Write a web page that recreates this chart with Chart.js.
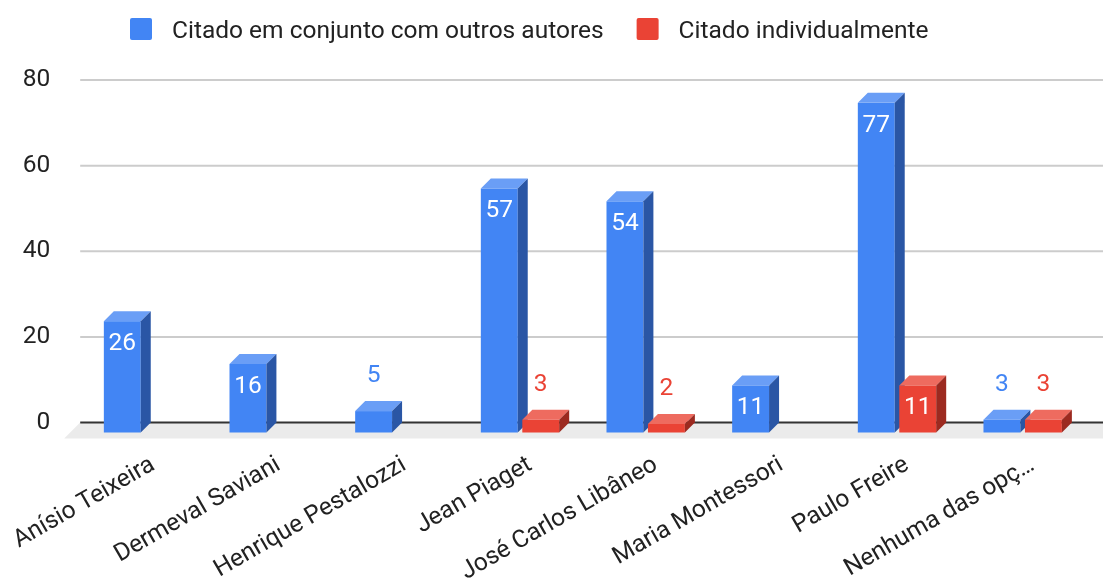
<!DOCTYPE html>
<html>
<head>
<meta charset="utf-8">
<script src="https://cdn.jsdelivr.net/npm/chart.js@4.4.0/dist/chart.umd.min.js"></script>
<style>
  body { margin: 0; background: #fff; }
  #wrap { width: 1103px; height: 578px; }
</style>
</head>
<body>
<div id="wrap"><canvas id="authorsChart"></canvas></div>
<script>
const categories = [
  "Anísio Teixeira",
  "Dermeval Saviani",
  "Henrique Pestalozzi",
  "Jean Piaget",
  "José Carlos Libâneo",
  "Maria Montessori",
  "Paulo Freire",
  "Nenhuma das opç…",
];
const seriesNames = ["Citado em conjunto com outros autores", "Citado individualmente"];
const jointValues = [26, 16, 5, 57, 54, 11, 77, 3];
const individualValues = [0, 0, 0, 3, 2, 0, 11, 3];
const yTicks = [0, 20, 40, 60, 80];

const DEPTH = 10; // 3d offset of the bars
const FLOOR = 16; // depth of the grey floor
const palette = [
  { front: "#4285f4", top: "#6a9ef6", side: "#2a56a5" },
  { front: "#ea4335", top: "#ee6b5f", side: "#9c2a20" },
];

Chart.defaults.font.family = "Roboto";
Chart.defaults.font.size = 24.5;
Chart.defaults.color = "#222";

// floor + grid in the back plane, bars drawn as boxes
const bars3d = {
  id: "bars3d",
  beforeDatasetsDraw(chart) {
    const { ctx, chartArea, scales } = chart;
    const y = scales.y;
    const zero = y.getPixelForValue(0);
    const left = chartArea.left - DEPTH;
    const right = chart.width;
    ctx.save();
    ctx.fillStyle = "#ebebeb";
    ctx.beginPath();
    ctx.moveTo(left, zero);
    ctx.lineTo(right + FLOOR, zero);
    ctx.lineTo(right, zero + FLOOR);
    ctx.lineTo(left - FLOOR, zero + FLOOR);
    ctx.closePath();
    ctx.fill();

    ctx.lineWidth = 2;
    yTicks.forEach((v) => {
      const py = y.getPixelForValue(v);
      ctx.strokeStyle = v === 0 ? "#333333" : "#cccccc";
      ctx.beginPath();
      ctx.moveTo(left, py);
      ctx.lineTo(right, py);
      ctx.stroke();
    });
    ctx.restore();
  },
  beforeDatasetDraw() {
    return false;
  },
  afterDatasetsDraw(chart) {
    const ctx = chart.ctx;
    const d = DEPTH;
    const labels = [];
    ctx.save();
    chart.data.datasets.forEach((ds, di) => {
      const meta = chart.getDatasetMeta(di);
      const c = palette[di];
      meta.data.forEach((bar, i) => {
        const v = ds.data[i];
        if (!v) return;
        const { x, y, base, width } = bar.getProps(["x", "y", "base", "width"], true);
        const l = x - width / 2;
        const r = x + width / 2;

        ctx.fillStyle = c.front;
        ctx.fillRect(l - d, y + d, width, base - y);

        ctx.fillStyle = c.top;
        ctx.beginPath();
        ctx.moveTo(l - d, y + d);
        ctx.lineTo(l, y);
        ctx.lineTo(r, y);
        ctx.lineTo(r - d, y + d);
        ctx.closePath();
        ctx.fill();

        ctx.fillStyle = c.side;
        ctx.beginPath();
        ctx.moveTo(r - d, y + d);
        ctx.lineTo(r, y);
        ctx.lineTo(r, base);
        ctx.lineTo(r - d, base + d);
        ctx.closePath();
        ctx.fill();

        const inside = base - y > 30;
        labels.push({
          text: String(v),
          x: x - d,
          y: inside ? y + d + 29 : y + d - 29,
          color: inside ? "#ffffff" : c.front,
        });
      });
    });

    ctx.font = "24.5px Roboto";
    ctx.textAlign = "center";
    ctx.textBaseline = "alphabetic";
    labels.forEach((lb) => {
      ctx.fillStyle = lb.color;
      ctx.fillText(lb.text, lb.x, lb.y);
    });
    ctx.restore();
  },
};

// legend drawn by hand to match the spacing of the original
const legendRow = {
  id: "legendRow",
  afterDraw(chart) {
    const ctx = chart.ctx;
    ctx.save();
    ctx.font = "24.5px Roboto";
    ctx.textBaseline = "alphabetic";
    ctx.textAlign = "left";
    let x = 130;
    const top = 18;
    chart.data.datasets.forEach((ds, i) => {
      ctx.fillStyle = palette[i].front;
      ctx.beginPath();
      ctx.roundRect(x, top, 22, 22, 2);
      ctx.fill();
      ctx.fillStyle = "#222";
      ctx.fillText(ds.label, x + 42, top + 19.5);
      x += 42 + ctx.measureText(ds.label).width + 33;
    });
    ctx.restore();
  },
};

new Chart(document.getElementById("authorsChart"), {
  type: "bar",
  data: {
    labels: categories,
    datasets: [
      { label: seriesNames[0], data: jointValues, backgroundColor: palette[0].front },
      { label: seriesNames[1], data: individualValues, backgroundColor: palette[1].front },
    ],
  },
  options: {
    responsive: true,
    maintainAspectRatio: false,
    animation: false,
    categoryPercentage: 0.66,
    barPercentage: 0.89,
    layout: { padding: { top: 80, right: 7.5, left: 0, bottom: 0 } },
    scales: {
      x: {
        grid: { display: false, drawTicks: false },
        border: { display: false },
        ticks: { minRotation: 30, maxRotation: 30, autoSkip: false, padding: 28 },
        afterFit: (s) => {
          s.height = 155.5;
          s.paddingLeft = 0;
          s.paddingRight = 0;
        },
      },
      y: {
        min: 0,
        max: 80,
        grid: { display: false, drawTicks: false },
        border: { display: false },
        ticks: { stepSize: 20, padding: 40 },
        afterFit: (s) => {
          s.width = 90.2;
        },
      },
    },
    plugins: {
      legend: { display: false },
      tooltip: { enabled: false },
    },
  },
  plugins: [bars3d, legendRow],
});
</script>
</body>
</html>
